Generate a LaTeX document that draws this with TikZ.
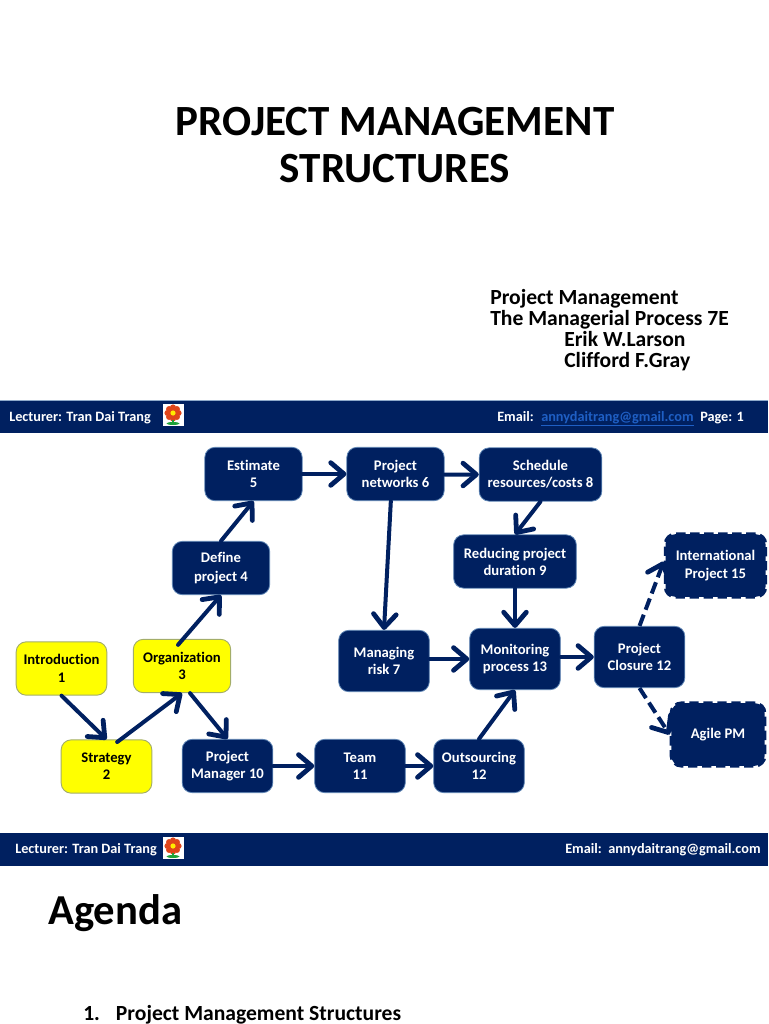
\documentclass[tikz,border=0pt]{standalone}
\usepackage{fontspec}
\setmainfont{Carlito}[BoldFont={Carlito Bold},Ligatures=CommonOff]
\usetikzlibrary{arrows.meta,calc}
\definecolor{navy}{HTML}{002060}
\definecolor{edgeblue}{HTML}{5F86B5}
\definecolor{ylw}{HTML}{FFFF00}
\definecolor{ylwedge}{HTML}{A3AD6A}
\definecolor{linkblue}{HTML}{1F5FC4}
\definecolor{petal}{HTML}{E0451A}
\definecolor{stem}{HTML}{1FA33A}
\tikzset{
  boxbase/.style={rounded corners=7.5pt,inner sep=0pt,align=center,font=\bfseries\fontsize{11pt}{12.8pt}\selectfont},
  navybox/.style={boxbase,fill=navy,draw=edgeblue,line width=0.6pt,text=white},
  yellowbox/.style={boxbase,fill=ylw,draw=ylwedge,line width=0.7pt,text=black},
  dashbox/.style={boxbase,fill=navy,draw=navy,line width=2.6pt,dash pattern=on 7pt off 3.5pt,text=white},
  flow/.style={draw=navy,line width=3pt,line cap=round,-{Straight Barb[length=10pt,width=17pt,round,line width=3.6pt]}},
  dashflow/.style={flow,dash pattern=on 9pt off 4pt,line cap=butt},
  bar/.style={fill=navy,draw=none,inner sep=0pt},
  bartext/.style={text=white,font=\bfseries\fontsize{10.7pt}{12pt}\selectfont,anchor=base west,inner sep=0pt},
  heading/.style={font=\bfseries\fontsize{32.3pt}{35pt}\selectfont,align=center,inner sep=0pt},
  byline/.style={font=\bfseries\fontsize{16.2pt}{18pt}\selectfont,anchor=base west,inner sep=0pt},
}
\newcommand{\flowerat}[2]{%
  \begin{scope}[shift={(#1,#2)}]
    \fill[white] (-10.5,-11) rectangle (10.5,11);
    \foreach \a in {0,45,...,315} \fill[petal] ($(0,-2)+(\a:5.6)$) circle (3);
    \fill[petal] (0,-2) circle (5.5);
    \fill[ylw!85!orange] (0,-2) circle (2.6);
    \draw[stem,line width=0.9pt] (0,5) -- (0,10);
    \fill[stem] (0,8.5) ellipse (6.5 and 1.5);
  \end{scope}}
\begin{document}
\begin{tikzpicture}[x=0.75pt,y=-0.75pt]
\useasboundingbox (0,0) rectangle (768,1024);
% text blocks
\node[heading] (title) at (395,145) {PROJECT MANAGEMENT\\STRUCTURES};
\node[byline] (b1) at (490,304) {Project Management};
\node[byline] (b2) at (490,325) {The Managerial Process 7E};
\node[byline] (b3) at (564,346) {Erik W.Larson};
\node[byline] (b4) at (564,367) {Clifford F.Gray};
% bars
\fill[bar] (0,400) rectangle (768,433);
\draw[edgeblue!70,line width=0.5pt] (0,400) -- (768,400);
\fill[bar] (0,833) rectangle (768,866);
\node[bartext] (l1) at (9,421) {Lecturer: Tran Dai Trang};
\flowerat{173}{415}
\node[bartext] (e1) at (497,421) {Email:};
\node[bartext,text=linkblue] (e2) at (541,421) {\underline{annydaitrang@gmail.com}};
\node[bartext] (p1) at (700,421) {Page: 1};
\node[bartext] (l2) at (15,853) {Lecturer: Tran Dai Trang};
\flowerat{173}{848}
\node[bartext] (e3) at (565,853) {Email:\ \ annydaitrang@gmail.com};
% lower text
\node[font=\bfseries\fontsize{32pt}{36pt}\selectfont,anchor=base west,inner sep=0pt] (agenda) at (48,924) {Agenda};
\node[font=\bfseries\fontsize{16.2pt}{18pt}\selectfont,anchor=base west,inner sep=0pt] (item) at (83,1020) {1.\hspace{12pt}Project Management Structures};
% boxes
\node[yellowbox,minimum width=68pt,minimum height=40pt] (intro) at (61.5,668.5) {Introduction\\[0.8pt]1};
\node[yellowbox,minimum width=68pt,minimum height=40pt] (strategy) at (106.5,766.5) {Strategy\\2};
\node[yellowbox,minimum width=73pt,minimum height=40pt] (org) at (182,666) {Organization\\3};
\node[navybox,minimum width=73pt,minimum height=40pt] (define) at (221,568) {Define\\[1pt]project 4};
\node[navybox,minimum width=73pt,minimum height=40pt] (estimate) at (253.5,474) {Estimate\\5};
\node[navybox,minimum width=73pt,minimum height=40pt] (networks) at (395.5,474) {Project\\networks 6};
\node[navybox,minimum width=92pt,minimum height=40pt] (schedule) at (540.5,474.5) {Schedule\\resources/costs 8};
\node[navybox,minimum width=92pt,minimum height=40pt] (reducing) at (515,561.5) {Reducing project\\duration 9};
\node[navybox,minimum width=68pt,minimum height=46pt] (managing) at (384,661) {Managing\\risk 7};
\node[navybox,minimum width=68pt,minimum height=46pt] (monitoring) at (515,659) {Monitoring\\process 13};
\node[navybox,minimum width=68pt,minimum height=46pt] (closure) at (639.5,657) {Project\\Closure 12};
\node[navybox,minimum width=68pt,minimum height=40pt] (pm) at (227.5,766) {Project\\Manager 10};
\node[navybox,minimum width=68pt,minimum height=40pt] (team) at (360,766) {Team\\11};
\node[navybox,minimum width=68pt,minimum height=40pt] (outs) at (479,766) {Outsourcing\\12};
\node[dashbox,minimum width=75pt,minimum height=47pt] (intl) at (715.5,565.5) {International\\[1pt]Project 15};
\node[dashbox,minimum width=70pt,minimum height=47pt] (agile) at (718,734.5) {\raisebox{-1.5pt}{Agile PM}};
% connectors
\draw[flow] (intro.south) -- (strategy.north);
\draw[flow] ([xshift=8pt,yshift=-2pt]strategy.north) -- (org.south);
\draw[flow] ([xshift=6pt]org.south) -- (pm.north);
\draw[flow] ([xshift=-3pt,yshift=-4.5pt]org.north) -- (define.south);
\draw[flow] (define.north) -- (estimate.south);
\draw[flow] (estimate.east) -- (networks.west);
\draw[flow] ([yshift=-0.4pt]networks.east) -- (schedule.west);
\draw[flow] (schedule.south) -- (reducing.north);
\draw[flow] (reducing.south) -- (monitoring.north);
\draw[flow] ([xshift=-3.5pt]networks.south) -- (managing.north);
\draw[flow] ([yshift=1.5pt]managing.east) -- (monitoring.west);
\draw[flow] ([yshift=1.5pt]monitoring.east) -- (closure.west);
\draw[flow] (pm.east) -- (team.west);
\draw[flow] (team.east) -- (outs.west);
\draw[flow] (outs.north) -- (monitoring.south);
\draw[dashflow] (closure.north) -- ([yshift=3pt]intl.west);
\draw[dashflow] (closure.south) -- (agile.west);
\end{tikzpicture}
\end{document}
